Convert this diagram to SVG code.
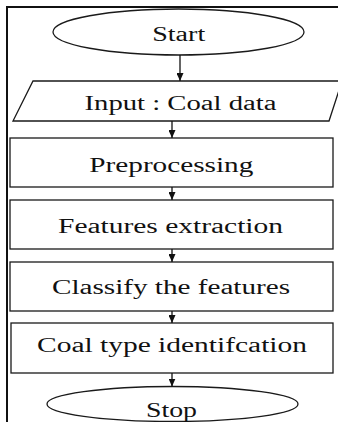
<svg xmlns="http://www.w3.org/2000/svg" width="338" height="422" viewBox="0 0 338 422">
  <style>
    .shape { fill: #ffffff; stroke: #1a1a1a; stroke-width: 1.3; }
    .frame { fill: none; stroke: #111111; stroke-width: 2; }
    .label { font-family: "Liberation Serif", "Times New Roman", serif; font-size: 20px; fill: #111111; text-anchor: middle; }
    .edge { stroke: #111111; stroke-width: 1.3; fill: none; marker-end: url(#arrow); }
  </style>
  <defs>
    <marker id="arrow" viewBox="0 0 8 7" refX="8" refY="3.5" markerWidth="8" markerHeight="7" markerUnits="userSpaceOnUse" orient="auto">
      <path d="M0,0 L8,3.5 L0,7 Z" fill="#111111"/>
    </marker>
  </defs>
  <rect width="338" height="422" fill="#ffffff"/>

  <!-- outer frame: top and left border -->
  <path class="frame" d="M7,422 V7 H338"/>

  <g id="start">
    <ellipse class="shape" cx="178.5" cy="32" rx="125.5" ry="23"/>
    <text class="label" x="178.7" y="41" textLength="53" lengthAdjust="spacingAndGlyphs">Start</text>
  </g>

  <g id="input">
    <polygon class="shape" points="33,81 342,81 329,121 13,121"/>
    <text class="label" x="180.5" y="110" textLength="192" lengthAdjust="spacingAndGlyphs">Input : Coal data</text>
  </g>

  <g id="preprocessing">
    <rect class="shape" x="10" y="138" width="323" height="49"/>
    <text class="label" x="171.3" y="172" textLength="164" lengthAdjust="spacingAndGlyphs">Preprocessing</text>
  </g>

  <g id="features-extraction">
    <rect class="shape" x="10" y="200" width="323" height="49"/>
    <text class="label" x="170.5" y="233" textLength="225" lengthAdjust="spacingAndGlyphs">Features extraction</text>
  </g>

  <g id="classify">
    <rect class="shape" x="10" y="262" width="323" height="49"/>
    <text class="label" x="171" y="294" textLength="238" lengthAdjust="spacingAndGlyphs">Classify the features</text>
  </g>

  <g id="coal-type">
    <rect class="shape" x="11" y="323" width="322" height="50"/>
    <text class="label" x="172" y="352" textLength="270" lengthAdjust="spacingAndGlyphs">Coal type identifcation</text>
  </g>

  <g id="stop">
    <ellipse class="shape" cx="172.5" cy="404" rx="125.5" ry="17.5"/>
    <text class="label" x="171.5" y="416.5" textLength="51" lengthAdjust="spacingAndGlyphs">Stop</text>
  </g>

  <g id="connectors">
    <line class="edge" x1="180" y1="55" x2="180" y2="81"/>
    <line class="edge" x1="172" y1="121" x2="172" y2="138"/>
    <line class="edge" x1="172" y1="187" x2="172" y2="200"/>
    <line class="edge" x1="172" y1="249" x2="172" y2="262"/>
    <line class="edge" x1="172" y1="311" x2="172" y2="323"/>
    <line class="edge" x1="172" y1="373" x2="172" y2="386.5"/>
  </g>
</svg>
